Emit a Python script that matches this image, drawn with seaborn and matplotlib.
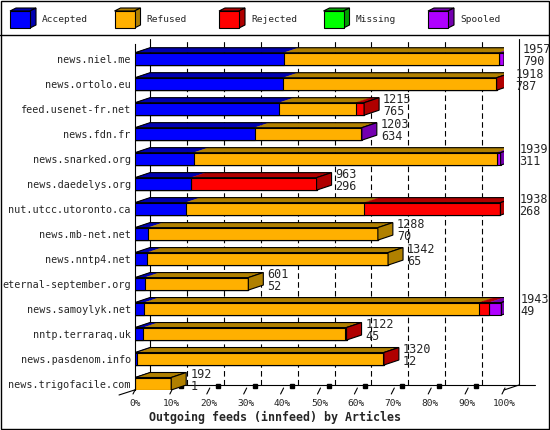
import numpy as np
import pandas as pd
import seaborn as sns
import matplotlib.pyplot as plt
from matplotlib.patches import Polygon, Rectangle

hosts = ['news.niel.me', 'news.ortolo.eu', 'feed.usenet-fr.net', 'news.fdn.fr',
         'news.snarked.org', 'news.daedelys.org', 'nut.utcc.utoronto.ca',
         'news.mb-net.net', 'news.nntp4.net', 'eternal-september.org',
         'news.samoylyk.net', 'nntp.terraraq.uk', 'news.pasdenom.info',
         'news.trigofacile.com']
offered = [1957, 1918, 1215, 1203, 1939, 963, 1938, 1288, 1342, 601, 1943, 1122, 1320, 192]
accepted = [790, 787, 765, 634, 311, 296, 268, 70, 65, 52, 49, 45, 12, 1]
refused = [1140, 1128, 405, 565, 1607, 0, 949, 1218, 1277, 549, 1776, 1070, 1305, 191]
rejected = [0, 3, 45, 0, 0, 667, 721, 0, 0, 0, 53, 7, 3, 0]
missing = [0, 0, 0, 0, 0, 0, 0, 0, 0, 0, 0, 0, 0, 0]
spooled = [27, 0, 0, 4, 21, 0, 0, 0, 0, 0, 65, 0, 0, 0]

series = ['Accepted', 'Refused', 'Rejected', 'Missing', 'Spooled']
front = ['#0000ff', '#ffb000', '#ff0000', '#00ff00', '#b000ff']
shade = ['#0000b0', '#b08000', '#b00000', '#00a000', '#7400b0']

# layout in pixels
W, H = 550, 430
X0, X1 = 135, 504      # front 0% .. 100%
YT, YB = 44, 390
DX, DY = 15, 5         # 3d depth
YLO, YHI = 13.25, -0.6
rowpx = (YB - YT) / (YLO - YHI)

def px2x(px):
    return (px - X0) / (X1 - X0) * 100

def py2y(py):
    return YHI + (py - YT) / rowpx

ddx = DX / (X1 - X0) * 100
ddy = DY / rowpx

sns.set_theme(style='white')
plt.rcParams['font.family'] = ['DejaVu Sans Mono']

df = pd.DataFrame({'host': hosts, 'Accepted': accepted, 'Refused': refused,
                   'Rejected': rejected, 'Missing': missing, 'Spooled': spooled})
pct = df[series].div(max(offered)).mul(100)
cum = pct.cumsum(axis=1)

fig = plt.figure(figsize=(5.5, 4.3), dpi=100)
pix = fig.add_axes([0, 0, 1, 1])
pix.set_xlim(0, W)
pix.set_ylim(H, 0)
pix.axis('off')
ax = fig.add_axes([X0 / W, 1 - YB / H, (X1 - X0) / W, (YB - YT) / H])
ax.set_facecolor('none')

# frame, separator, legend
pix.add_patch(Rectangle((0.5, 0.5), W - 1.5, H - 1.5, fill=False, ec='black', lw=1))
pix.plot([0, W], [35, 35], color='black', lw=1)
for j, name in enumerate(series):
    bx = 10 + 104.5 * j
    pix.add_patch(Polygon([(bx, 11), (bx + 20, 11), (bx + 26, 8), (bx + 6, 8)],
                          fc=shade[j], ec='black', lw=0.8))
    pix.add_patch(Polygon([(bx + 20, 11), (bx + 26, 8), (bx + 26, 25), (bx + 20, 28)],
                          fc=shade[j], ec='black', lw=0.8))
    pix.add_patch(Rectangle((bx, 11), 20, 17, fc=front[j], ec='black', lw=0.8))
    pix.text(bx + 32, 20, name, fontsize=6.8, va='center', ha='left')

# back walls, grid and floor
yb_back = YLO - ddy
yt_back = YHI - ddy
for k in range(11):
    ls = '-' if k in (0, 10) else (0, (5, 3))
    ax.plot([10 * k + ddx] * 2, [yb_back, yt_back], color='black', lw=0.8,
            ls=ls, zorder=1, clip_on=False)
ax.plot([ddx, px2x(535)], [yb_back, yb_back], color='black', lw=0.8, zorder=1, clip_on=False)
ax.plot([px2x(119), ddx], [py2y(395), yb_back], color='black', lw=0.8, zorder=1, clip_on=False)
for k in range(11):
    xf = X0 - 1 + (X1 - X0) * k / 10
    ax.plot([px2x(xf - 1), px2x(xf + 2)], [py2y(394), py2y(388)], color='black',
            lw=0.8, clip_on=False)
    if 0 < k < 10:
        ax.plot(px2x(xf + 10), py2y(386), marker='s', ms=2.2, color='black', clip_on=False)
ax.plot([100, 100 + ddx], [YLO, yb_back], color='black', lw=0.8, clip_on=False)

# bars, stacked by overlaying cumulative totals
for j in range(len(series) - 1, -1, -1):
    sns.barplot(x=cum[series[j]], y=df['host'], orient='h', color=front[j],
                saturation=1, width=0.5, edgecolor='black', linewidth=0.8,
                zorder=3, ax=ax)

for i in range(len(hosts)):
    top = i - 0.25
    for j, name in enumerate(series):
        w = pct.loc[i, name]
        if w <= 0:
            continue
        l, r = cum.loc[i, name] - w, cum.loc[i, name]
        ax.add_patch(Polygon([(l, top), (r, top), (r + ddx, top - ddy), (l + ddx, top - ddy)],
                             fc=shade[j], ec=shade[j], lw=0.3, zorder=3))
    R = cum.loc[i, 'Spooled']
    last = max(j for j, name in enumerate(series) if pct.loc[i, name] > 0)
    ax.add_patch(Polygon([(0, top), (R, top), (R + ddx, top - ddy), (ddx, top - ddy)],
                         fill=False, ec='black', lw=0.8, zorder=4))
    ax.add_patch(Polygon([(R, top), (R, i + 0.25), (R + ddx, i + 0.25 - ddy), (R + ddx, top - ddy)],
                         fc=shade[last], ec='black', lw=0.8, zorder=4))
    ax.annotate(f'{offered[i]}\n{accepted[i]}', xy=(R, i), xytext=(DX + 4, 3.5),
                textcoords='offset pixels', va='center', ha='left', fontsize=8.5,
                linespacing=0.95, zorder=5)

ax.set_xlim(0, 100)
ax.set_ylim(YLO, YHI)
ax.set_xticks(range(0, 101, 10))
ax.set_xticklabels([f'{k}%' for k in range(0, 101, 10)])
ax.set_xlabel('')
ax.set_ylabel('')
ax.tick_params(axis='x', length=0, pad=6.5, labelsize=6.8)
ax.tick_params(axis='y', length=0, pad=3, labelsize=7.3)
for s in ['top', 'right', 'bottom']:
    ax.spines[s].set_visible(False)
ax.spines['left'].set_color('black')
ax.spines['left'].set_linewidth(0.8)

fig.text(0.5, 1 - 417 / H, 'Outgoing feeds (innfeed) by Articles', ha='center',
         va='center', fontsize=8.4, fontweight='bold')

fig.savefig('out.png', dpi=100)
